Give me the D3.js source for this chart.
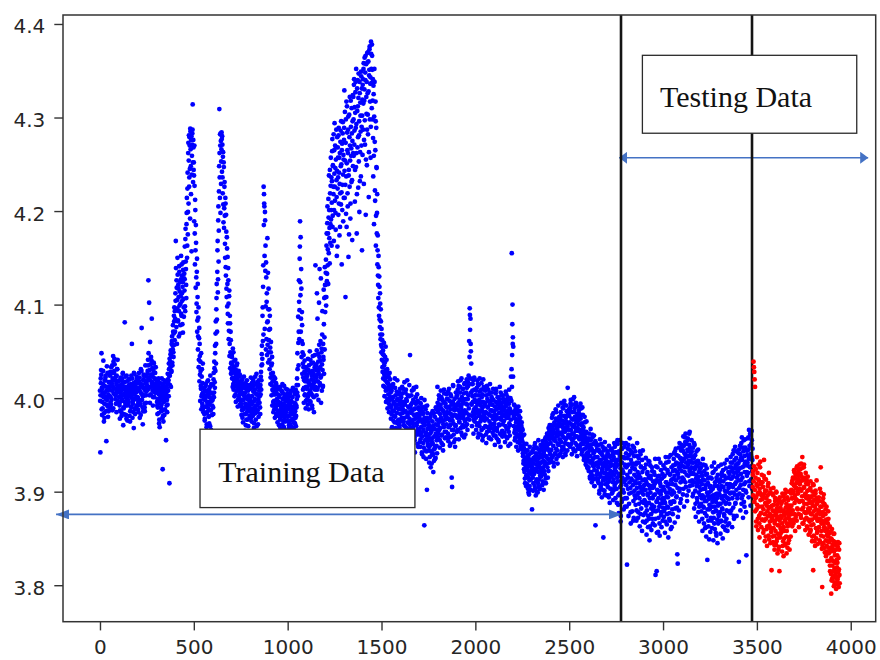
<!DOCTYPE html>
<html>
<head>
<meta charset="utf-8">
<script src="https://cdn.jsdelivr.net/npm/d3@7"></script>
<style>
  html, body { margin: 0; padding: 0; background: #ffffff; }
  svg { display: block; }
</style>
</head>
<body>
<svg id="chart" width="880" height="660"></svg>
<script>
// Voltage readings in millivolts. Each block of rows covers 500 sample
// indices; one row per 50 indices. "Even" tables hold samples start+0,2,4...,
// "odd" tables hold samples start+1,3,5...
const blueMvEven_0000 = [
  [4008,3942,4021,4030,4048,4011,3996,3989,4015,4040,4003,3984,3979,4006,4019,4024,4001,3954,3993,3998,4027,4012,4009,3986,3992],
  [4017,4002,3990,3995,4026,4033,4014,4008,3987,4021,4045,4039,4011,4029,4036,4004,3999,4023,4018,3985,4007,4031,4041,4013,3996],
  [4013,4001,3992,3978,4006,4022,4019,3985,3997,4010,4016,4027,3971,3989,4003,4012,4081,4009,3993,3982,4000,4024,4018,3976,4005],
  [3994,4011,4020,4003,3981,3975,4008,4015,4002,3990,4058,4021,4013,3997,3985,3968,4004,4026,4010,3999,3988,4006,4017,4023,3992],
  [4001,3988,3996,4016,4027,4009,3979,3993,4012,4031,4005,4075,3998,4014,3972,3986,4020,4024,4003,3990,4011,4035,4018,3995,4007],
  [4018,4010,4029,4041,4126,4022,4102,4003,3995,4012,4036,4044,4025,4085,4017,4008,3992,4030,4038,4014,4001,4021,4027,4006,4011],
  [4009,4017,3996,3983,3990,4013,4021,4004,3977,3969,3999,4011,4006,3986,3993,4015,4002,3924,3981,3975,4008,4019,3997,3988,4012],
  [3999,3955,4006,4011,3985,3993,4020,4016,4002,4031,3909,4024,4039,4047,4012,4028,4058,4066,4035,4052,4071,4044,4088,4097,4062],
  [4071,4112,4168,4094,4126,4058,4105,4132,4083,4117,4066,4141,4099,4124,4078,4109,4152,4088,4131,4104,4119,4070,4145,4097,4128],
  [4115,4162,4093,4181,4138,4107,4198,4150,4224,4175,4262,4208,4281,4236,4270,4192,4285,4248,4276,4157,4259,4283,4314,4231,4268]
];
const blueMvOdd_0000 = [
  [3997,4003,4016,4025,3988,3982,4010,4006,4029,4001,3975,3994,4013,4019,4022,3999,3986,4008,4034,4011,3991,3980,4004,4017,4012],
  [4009,4024,4028,4001,3993,3998,4016,4035,4019,4012,3989,4005,4027,4042,4020,4010,4003,3994,4015,4024,4031,4006,3997,4018,4009],
  [4010,4019,3995,3987,4002,4014,4008,3981,3999,4021,4026,4004,3990,3983,4011,4017,3996,4006,4023,4001,3978,3992,4012,4009,3998],
  [4002,3996,4014,4020,4009,3986,3991,4006,4024,4012,4000,3979,3994,4008,4016,4027,4005,3989,3983,4013,4018,4001,3992,4010,4021],
  [4011,4000,3985,3993,4018,4022,4007,3997,3982,4015,4029,4013,4004,3990,4002,4019,4025,4010,3994,3986,4008,4016,4003,4023,4012],
  [4014,4026,4009,4035,4048,4021,4011,4030,4060,4019,4004,4025,4040,4016,4032,4023,4001,4012,4037,4027,4015,4006,4020,4033,4010],
  [4014,4006,3992,3999,4018,4010,3984,3973,3995,4008,4016,4002,3990,3998,4021,4011,3979,3987,4005,4013,3996,3982,4001,4017,4007],
  [4004,4010,3992,3998,4015,4026,4008,4019,4037,4024,4042,4014,4033,4051,4045,4029,4061,4038,4056,4078,4049,4069,4082,4057,4093],
  [4085,4104,4139,4076,4118,4096,4150,4082,4121,4108,4093,4135,4114,4069,4101,4127,4090,4143,4112,4079,4124,4137,4106,4087,4133],
  [4127,4098,4170,4146,4121,4186,4214,4163,4241,4199,4273,4254,4226,4279,4245,4288,4266,4218,4280,4239,4271,4287,4252,4276,4244]
];
const blueMvEven_0500 = [
  [4252,4189,4227,4143,4201,4118,4166,4092,4135,4071,4108,4052,4086,4033,4064,4018,4045,3997,4029,4010,3988,4023,4004,3991,4037],
  [3989,4004,4011,3983,3976,3998,4008,4015,3991,3969,3985,4002,3994,4019,4006,3980,3973,3996,4012,4024,3987,3966,3999,4005,3992],
  [3998,4014,3983,4027,4006,4032,4011,4048,4069,4037,4095,4122,4071,4158,4113,4190,4146,4221,4309,4236,4282,4198,4275,4253,4284],
  [4242,4271,4219,4263,4188,4247,4203,4231,4165,4214,4140,4196,4117,4172,4098,4151,4080,4126,4063,4109,4045,4088,4032,4071,4026],
  [4038,4046,4021,4029,4053,4015,4009,4033,4040,4018,4027,4004,3996,4024,4035,4012,4019,3991,4008,4026,4001,4016,4023,3993,4010],
  [4007,3991,3982,4013,4020,3998,3974,3988,4005,4011,4002,3965,3994,4016,3983,3977,4009,3999,3990,4012,3970,3986,4001,3996,3979],
  [3993,4010,4022,3985,3975,4002,3996,3981,4013,4018,3968,3990,4006,3999,3984,3977,4015,4026,3992,4004,3987,3972,3998,4019,4008],
  [3995,4011,3983,4004,4028,4019,4047,4036,4088,4061,4142,4226,4218,4205,4074,4190,4163,4052,4129,4103,4046,4171,4082,4038,4117],
  [4062,4095,4031,4074,4015,4049,4026,4003,4037,3992,4018,4008,3985,4023,3997,4012,3979,4004,3990,4016,3983,3998,4009,3974,3993],
  [3996,3981,3971,4003,3994,4012,3986,3965,3980,3989,4007,4015,3993,3976,3983,3969,4001,3988,3975,3997,4010,3992,3963,3981,4005]
];
const blueMvOdd_0500 = [
  [4238,4270,4176,4212,4158,4185,4129,4101,4149,4083,4122,4066,4097,4041,4075,4058,4025,4039,4013,4048,4002,4031,3994,4016,4006],
  [3985,3999,4010,4002,3978,3991,4013,4007,3984,3972,3996,4018,4004,3989,3981,4009,4001,3993,3970,3987,4006,4015,3997,3982,4000],
  [4005,3990,4020,4001,4039,4017,4056,4029,4082,4058,4107,4084,4135,4168,4127,4205,4179,4248,4262,4214,4270,4283,4229,4266,4277],
  [4280,4236,4258,4207,4252,4182,4226,4195,4150,4208,4131,4178,4108,4160,4122,4090,4139,4101,4072,4115,4058,4080,4049,4062,4037],
  [4029,4044,4036,4012,4022,4049,4031,4019,4002,4027,4041,4013,4030,4008,4021,4037,4016,3998,4011,4029,4018,4004,4025,4013,3998],
  [3994,4009,4017,3987,3979,4004,3998,4015,4023,3990,3983,4006,4012,3971,3993,4001,4019,3986,3977,4008,4003,3992,4014,3981,3999],
  [4001,3989,3979,4011,4016,3994,3987,4020,4007,3983,3973,3997,4009,4023,3988,3992,4004,3970,3985,4012,4017,3995,3980,4002,4014],
  [4002,3990,4014,4023,4009,4035,4056,4042,4097,4119,4068,4185,4208,4152,4199,4136,4098,4145,4063,4112,4081,4057,4134,4095,4049],
  [4073,4041,4088,4054,4022,4060,4035,4014,4044,4009,4027,3996,4019,4004,3988,4011,4021,3993,4006,3981,4013,3999,3987,4004,4010],
  [3993,3984,4001,4010,3977,3968,3995,3990,4008,3982,3972,3999,4005,3986,3994,4013,3979,3966,3991,4002,3985,3998,3976,3989,4009]
];
const blueMvEven_1000 = [
  [3988,3975,3999,4002,3968,3981,3993,3972,3985,4008,3996,3961,3977,3990,4011,3983,3967,3974,3995,4004,3986,3979,3970,3992,4014],
  [4021,4048,4002,4087,4035,4126,4063,4149,4189,4110,4071,4138,4044,4092,4026,4058,4009,4033,3995,4019,4040,4004,4027,3989,4012],
  [4022,4031,3999,4012,4042,4017,3988,4005,4028,4050,4008,3996,4014,4037,4024,3992,4003,4045,4019,4026,3985,4011,4033,4009,4142],
  [4018,4036,4003,4112,4025,4011,4047,3998,4031,4057,4138,4014,4040,4022,3995,4049,4008,4068,4030,4013,4044,4116,4026,4065,4140],
  [4092,4121,4148,4108,4176,4133,4205,4159,4122,4193,4238,4171,4144,4219,4186,4257,4201,4163,4232,4277,4195,4248,4218,4168,4265],
  [4294,4211,4246,4180,4268,4233,4152,4279,4224,4257,4196,4289,4241,4174,4262,4219,4286,4207,4250,4143,4272,4228,4295,4189,4255],
  [4276,4329,4214,4254,4108,4298,4237,4183,4312,4265,4205,4287,4151,4244,4303,4226,4270,4192,4318,4259,4231,4283,4169,4296,4248],
  [4322,4259,4341,4286,4210,4305,4338,4247,4293,4176,4331,4268,4312,4225,4347,4281,4199,4326,4263,4302,4237,4344,4290,4158,4319],
  [4335,4287,4352,4229,4318,4364,4271,4340,4196,4357,4304,4249,4369,4326,4282,4360,4215,4345,4373,4298,4336,4257,4381,4352,4310],
  [4366,4298,4341,4237,4325,4186,4352,4274,4211,4317,4163,4289,4246,4198,4143,4174,4121,4152,4097,4130,4084,4112,4068,4095,4057]
];
const blueMvOdd_1000 = [
  [3980,3996,3989,3971,3964,3992,4005,3983,3976,3997,3986,3969,4001,3991,3978,3958,3988,4007,3982,3973,3994,4009,3981,3990,3999],
  [4006,4031,4014,4059,4071,4103,4094,4162,4124,4172,4085,4117,4061,4078,4049,4037,4022,4046,4011,4028,4003,4018,4033,3997,4025],
  [4010,4024,4019,3993,4002,4030,4035,4016,3997,4008,4041,4027,4005,4020,4011,3989,4029,4038,4015,4001,4017,4023,4046,4012,4034],
  [4030,4022,4051,4009,4085,4018,4039,4027,4102,4044,4016,4033,4061,4128,4024,4053,4036,4093,4012,4058,4041,4079,4107,4052,4121],
  [4108,4134,4099,4163,4125,4187,4142,4176,4213,4155,4201,4182,4244,4166,4227,4191,4236,4209,4264,4183,4249,4226,4282,4201,4240],
  [4226,4270,4198,4255,4287,4215,4243,4162,4268,4236,4281,4208,4257,4229,4183,4274,4248,4296,4220,4265,4201,4283,4239,4260,4214],
  [4289,4243,4306,4228,4273,4197,4317,4251,4284,4219,4262,4301,4238,4175,4279,4322,4254,4208,4290,4267,4310,4233,4275,4324,4262],
  [4298,4335,4271,4311,4244,4327,4289,4352,4262,4218,4307,4340,4279,4321,4253,4296,4338,4232,4316,4285,4349,4270,4331,4302,4260],
  [4341,4315,4358,4276,4330,4297,4348,4366,4255,4322,4338,4287,4359,4303,4370,4328,4263,4351,4376,4317,4343,4290,4368,4337,4378],
  [4351,4318,4278,4334,4259,4301,4338,4222,4265,4296,4195,4247,4176,4218,4158,4131,4107,4140,4088,4119,4076,4101,4063,4082,4049]
];
const blueMvEven_1500 = [
  [4074,4041,4062,4028,4051,4013,4046,4035,4002,4038,4019,4055,3996,4027,4010,4031,3989,4016,4004,4023,3985,4011,3998,4020,3992],
  [3978,3992,4008,3969,3955,3987,4015,3996,3981,3962,3974,4011,4003,3990,3951,3966,3984,4019,3999,3976,3948,3988,4006,3971,3993],
  [3983,3997,3965,3947,3979,4012,4005,3988,3960,3975,3994,4017,3970,3957,3986,4009,3999,3968,3952,3980,4003,3991,3944,3973,4014],
  [3972,4046,3990,3961,3953,3984,4008,3995,3946,3969,3977,4011,3988,3958,3942,3982,4001,3964,3973,3996,4004,3951,3967,3990,3979],
  [3965,3982,3995,3948,3956,3989,4000,3963,3940,3974,3985,3952,3937,3971,3864,3979,3991,3944,3960,3935,3976,3902,3984,3958,3949],
  [3959,3944,3931,3969,3978,3950,3926,3983,3964,3939,3953,3986,3970,3921,3945,3933,3967,3980,3948,3936,3962,3988,3955,3941,4012],
  [3971,3958,3992,4003,3966,3947,3983,3977,4008,3989,3952,3961,3998,3975,3944,3986,3969,4005,3995,3957,3980,3991,3964,3972,3999],
  [3985,3999,3962,3954,3978,4010,3991,3949,3971,4004,3983,3959,3915,3905,3976,3996,4013,3966,3953,3987,3993,3948,3970,4006,3981],
  [3992,3964,3979,4009,4018,3987,3956,3975,3998,4012,3983,3968,3990,4021,4001,3960,3971,3995,4010,3978,3958,3986,4016,3999,3970],
  [3985,4006,4020,3972,3966,3999,4013,4024,3982,3977,4096,4073,4085,4050,4037,3993,3970,4008,4015,3985,3962,3996,4022,3975,4003]
];
const blueMvOdd_1500 = [
  [4055,4068,4033,4047,4021,4039,4059,4025,4012,4044,4030,4008,4022,4041,4017,3999,4026,4009,4015,3994,4013,4027,4001,3990,4006],
  [3991,3983,3967,3999,4012,4001,3976,3959,3986,3994,4021,3980,3968,3955,3993,4007,3998,3973,3962,3989,4004,3977,3969,3995,4010],
  [3975,3988,4001,3963,3956,3991,3984,4010,3996,3971,3949,3979,3993,4006,3985,3966,3961,3997,4019,3982,3974,3957,3990,4002,3978],
  [3985,3968,3959,3993,4003,3976,3987,3950,3973,3998,4009,3982,3964,3955,3989,3978,3994,4012,3971,3961,3983,3997,3948,3975,3988],
  [3980,3961,3953,3986,3994,3969,3977,3942,3959,3990,3983,3966,3947,3975,3998,3971,3955,3988,3963,3943,3979,3992,3967,3951,3974],
  [3955,3971,3948,3937,3962,3980,3966,3943,3930,3957,3975,3951,3940,3968,3984,3959,3946,3935,3972,3990,3961,3949,3977,3966,3995],
  [3985,3962,3974,3999,3988,3955,3968,3993,3979,4001,3960,3976,3987,3950,3972,3996,4009,3983,3964,3977,3994,3958,3981,4004,3990],
  [3978,3990,4007,3969,3958,3984,3997,3976,3951,3988,4002,3994,3966,3980,3993,4014,3973,3961,3989,3999,3982,3956,3971,3992,4001],
  [3988,4003,3981,3966,3995,4013,3992,3974,3984,4006,4019,3979,3963,3993,3986,4010,3997,3969,3982,4005,4015,3987,3975,3961,3994],
  [3999,3984,4011,3993,3978,4017,4003,3989,4061,4044,4089,4021,4058,4006,3994,4015,3981,4002,3996,4019,3977,3988,4009,3998,3983]
];
const blueMvEven_2000 = [
  [3990,4003,3966,3985,4011,4019,3973,3958,3997,4014,3981,3970,4007,3994,3961,3977,4016,4001,3986,3955,3996,4020,3968,4009,3980],
  [3976,3995,4008,3961,3952,3984,4013,3999,3969,3991,4004,3965,3958,3982,4015,3997,3972,3956,3987,4006,3993,3963,3978,3998,3960],
  [3986,3969,3950,3977,4005,4010,3981,3957,3965,3994,4001,3989,3953,3972,3996,4012,3979,3948,3961,3992,4003,3983,3959,3972,3999],
  [3975,3990,3998,3960,3953,3981,4007,3994,3967,3958,3985,4001,3979,3949,3964,4009,3989,3971,3951,3984,4023,3997,4155,4046,4100],
  [4065,4055,3981,3993,3963,3955,3978,3988,3969,3948,3974,3990,3984,3959,3944,3966,3981,3976,3952,3986,3962,3949,3971,3957,3968],
  [3954,3966,3938,3930,3947,3961,3921,3914,3942,3935,3906,3951,3926,3918,3944,3903,3929,3939,3897,3912,3948,3932,3902,3919,3926],
  [3927,3881,3942,3915,3901,3936,3946,3921,3906,3952,3934,3896,3911,3947,3925,3938,3899,3909,3955,3928,3913,3942,3903,3931,3950],
  [3916,3939,3948,3907,3924,3954,3933,3902,3943,3949,3918,3929,3958,3909,3937,3951,3962,3926,3915,3945,3968,3957,3931,3971,3940],
  [3961,3944,3932,3969,3979,3958,3938,3964,3984,3927,3955,3971,3941,3962,3988,3946,3935,3968,3976,3930,3960,3992,3950,3939,3973],
  [3970,3955,3941,3981,3995,3963,3948,3976,3937,3989,3966,3945,3997,3973,3952,3939,3979,3992,3957,3969,3944,4011,3984,3961,3950]
];
const blueMvOdd_2000 = [
  [3996,3979,4008,3988,3971,3993,4015,4003,3962,3984,3998,4021,3987,3975,3992,4009,3966,3980,4004,3990,3959,3983,4012,3995,3978],
  [3992,3970,3985,4003,4011,3978,3964,3990,3997,4009,3983,3957,3975,3994,4006,3987,3968,3981,4001,3993,3972,3986,4010,3979,3966],
  [3973,3991,3982,3960,3996,4008,3988,3968,3978,4001,3993,3955,3984,3999,3971,3962,3990,4006,3977,3986,3995,3965,3981,4003,3987],
  [3988,3976,3963,3995,3983,3970,3991,4004,3979,3957,3986,3998,3968,3981,3994,3973,3960,3988,4000,3977,3985,4031,4012,4079,4058],
  [4023,3985,3970,3979,3992,3966,3958,3983,3974,3962,3987,3969,3953,3977,3991,3960,3972,3955,3969,3979,3947,3964,3958,3974,3945],
  [3949,3941,3960,3933,3924,3951,3936,3909,3928,3944,3917,3932,3908,3938,3923,3915,3899,3935,3920,3906,3929,3941,3913,3922,3933],
  [3918,3934,3944,3925,3909,3930,3919,3949,3937,3903,3922,3941,3929,3913,3900,3932,3946,3921,3905,3936,3926,3944,3917,3938,3924],
  [3931,3920,3945,3937,3911,3926,3950,3940,3922,3932,3956,3945,3914,3938,3953,3930,3947,3959,3935,3922,3951,3964,3943,3956,3966],
  [3952,3971,3945,3936,3960,3982,3967,3949,3931,3957,3974,3963,3940,3954,3978,3985,3959,3944,3966,3951,3972,3938,3963,3980,3956],
  [3962,3977,3985,3953,3944,3972,3960,3990,3969,3948,3958,3981,3993,3964,3941,3956,3975,3966,3986,3951,3970,3982,3959,3973,3988]
];
const blueMvEven_2500 = [
  [3981,3966,3948,3990,3998,3957,3972,3940,3962,3993,3977,3946,3957,4001,3985,3969,3943,3959,3995,3974,3950,3938,3979,3991,3965],
  [3976,3987,3956,3946,3981,3994,3963,3951,3940,3973,3990,3958,3945,3969,3934,3957,3980,3962,3938,3929,3953,3975,3948,3936,3925],
  [3955,3939,3922,3962,3945,3916,3931,3967,3950,3919,3910,3944,3958,3928,3913,3941,3960,3923,3906,3937,3864,3952,3930,3918,3945],
  [3929,3944,3914,3950,3909,3898,3933,3956,3919,3905,3941,3930,3894,3924,3948,3912,3851,3936,3920,3901,3953,3927,3908,3934,3896],
  [3916,3932,3943,3905,3896,3926,3949,3911,3888,3937,3922,3903,3929,3946,3918,3899,3940,3891,3913,3934,3952,3906,3925,3893,3942],
  [3927,3942,3888,3915,3951,3934,3896,3877,3919,3940,3955,3905,3868,3931,3912,3889,3946,3923,3902,3937,3881,3910,3948,3929,3893],
  [3936,3952,3907,3884,3822,3928,3946,3915,3874,3939,3898,3957,3921,3904,3866,3943,3930,3912,3879,3949,3925,3890,3872,3938,3901],
  [3924,3943,3886,3909,3869,3931,3952,3897,3914,3878,3936,3918,3893,3863,3905,3940,3927,3882,3899,3858,3921,3944,3903,3875,3888],
  [3902,3925,3867,3889,3936,3911,3854,3880,3919,3898,3862,3933,3907,3871,3848,3893,3928,3914,3876,3859,3886,3922,3904,3866,3881],
  [3896,3921,3908,3864,3935,3811,3879,3912,3815,3890,3926,3901,3857,3872,3917,3884,3853,3909,3931,3897,3875,3862,3914,3888,3869]
];
const blueMvOdd_2500 = [
  [3974,3960,3987,3994,3966,3951,3978,3985,3955,3970,3999,3962,3944,3971,3989,3980,3952,3965,3992,3976,3959,3983,3968,3946,3977],
  [3972,3958,3983,3966,3949,3978,3989,3960,3971,3943,3955,3982,3966,3951,3937,3962,3974,3946,3958,3932,3964,3941,3927,3952,3939],
  [3942,3926,3957,3933,3949,3914,3938,3955,3921,3946,3932,3961,3917,3935,3951,3927,3906,3943,3930,3954,3914,3937,3949,3922,3931],
  [3937,3911,3926,3945,3919,3901,3930,3942,3916,3934,3951,3908,3922,3939,3902,3927,3944,3915,3931,3897,3920,3946,3913,3928,3938],
  [3924,3909,3941,3919,3931,3894,3914,3938,3927,3903,3945,3916,3933,3898,3921,3943,3910,3928,3937,3902,3918,3948,3923,3909,3931],
  [3921,3903,3934,3955,3911,3886,3929,3943,3917,3898,3938,3925,3874,3907,3946,3931,3915,3892,3952,3920,3899,3936,3912,3884,3927],
  [3913,3941,3926,3893,3918,3936,3903,3950,3929,3887,3910,3945,3922,3878,3934,3914,3899,3941,3926,3907,3869,3930,3947,3918,3896],
  [3911,3893,3929,3916,3880,3904,3938,3921,3872,3899,3931,3887,3909,3943,3915,3876,3926,3902,3889,3934,3912,3868,3897,3925,3907],
  [3891,3913,3877,3902,3929,3885,3869,3908,3921,3896,3874,3915,3888,3932,3903,3863,3899,3917,3882,3906,3926,3871,3893,3911,3879],
  [3905,3884,3918,3897,3871,3910,3927,3889,3856,3902,3916,3880,3893,3935,3899,3866,3912,3887,3906,3923,3878,3901,3892,3919,3883]
];
const blueMvEven_3000 = [
  [3905,3928,3873,3891,3917,3856,3882,3937,3899,3910,3865,3884,3923,3894,3851,3932,3908,3877,3869,3919,3939,3887,3898,3862,3913],
  [3901,3876,3928,3914,3941,3889,3867,3923,3907,3946,3931,3895,3883,3833,3823,3919,3938,3880,3926,3952,3903,3888,3935,3944,3911],
  [3922,3948,3935,3897,3959,3913,3884,3941,3926,3953,3962,3905,3937,3918,3890,3945,3957,3929,3901,3933,3950,3964,3911,3924,3942],
  [3938,3955,3931,3907,3895,3947,3919,3936,3882,3950,3926,3901,3873,3914,3943,3928,3889,3909,3933,3878,3916,3868,3905,3924,3886],
  [3911,3926,3879,3893,3917,3858,3935,3884,3903,3866,3922,3890,3861,3928,3907,3852,3874,3919,3827,3896,3914,3863,3899,3849,3881],
  [3893,3857,3915,3901,3869,3927,3884,3920,3896,3848,3872,3931,3906,3860,3879,3924,3889,3853,3912,3898,3845,3918,3866,3876,3903],
  [3887,3910,3902,3855,3868,3929,3893,3917,3881,3850,3923,3905,3862,3874,3930,3896,3859,3914,3888,3871,3934,3900,3864,3879,3921],
  [3892,3866,3919,3908,3877,3937,3899,3926,3914,3862,3931,3905,3883,3944,3871,3925,3897,3948,3888,3910,3936,3874,3921,3893,3917],
  [3923,3941,3825,3904,3933,3949,3880,3912,3936,3887,3958,3926,3896,3872,3943,3955,3908,3884,3930,3947,3901,3878,3832,3921,3939],
  [3931,3957,3945,3894,3966,3906,3938,3962,3885,3927,3951,3965,3903,3934]
];
const blueMvOdd_3000 = [
  [3893,3916,3879,3902,3925,3888,3868,3910,3931,3895,3876,3906,3920,3883,3899,3937,3871,3903,3918,3889,3860,3912,3926,3897,3881],
  [3908,3922,3890,3935,3899,3917,3943,3882,3929,3912,3894,3939,3921,3904,3873,3930,3915,3947,3900,3924,3936,3910,3892,3928,3950],
  [3932,3915,3944,3927,3903,3949,3935,3921,3958,3910,3939,3931,3951,3896,3926,3955,3943,3917,3938,3962,3922,3906,3947,3933,3919],
  [3926,3943,3912,3937,3920,3898,3931,3952,3910,3924,3939,3887,3918,3932,3906,3893,3927,3913,3945,3899,3921,3884,3911,3930,3896],
  [3902,3887,3920,3908,3871,3896,3913,3929,3883,3894,3912,3877,3903,3918,3862,3890,3925,3899,3881,3909,3869,3892,3915,3886,3905],
  [3884,3906,3872,3895,3914,3861,3889,3903,3878,3921,3892,3866,3884,3910,3897,3856,3880,3915,3893,3870,3906,3885,3927,3874,3898],
  [3896,3878,3913,3887,3869,3906,3920,3882,3895,3863,3911,3890,3876,3917,3901,3868,3887,3925,3894,3880,3908,3858,3893,3915,3904],
  [3905,3887,3926,3898,3914,3931,3880,3907,3922,3893,3940,3916,3899,3874,3920,3934,3908,3887,3928,3943,3902,3915,3930,3896,3925],
  [3930,3912,3945,3898,3925,3940,3907,3919,3952,3893,3934,3915,3947,3902,3927,3889,3938,3921,3956,3910,3932,3899,3944,3917,3928],
  [3944,3920,3958,3935,3911,3949,3926,3961,3940,3913,3937,3955,3922,3946]
];
// Later readings (drawn in red), starting at sample 3478.
const redMvEven_3478 = [
  [3905,3922,4039,4033,4028,4020,4012,3893,3924,3868,3881,3937,3906,3897,3859,3929,3912,3874,3851,3899,3932,3908,3877,3862,3918],
  [3884,3910,3895,3856,3917,3934,3869,3847,3901,3887,3913,3893,3860,3842,3879,3906,3889,3853,3920,3864,3898,3876,3845,3903,3857],
  [3816,3872,3898,3880,3846,3904,3886,3853,3838,3869,3893,3875,3843,3899,3882,3850,3834,3864,3890,3873,3841,3815,3894,3879,3855],
  [3861,3887,3872,3836,3898,3879,3847,3831,3858,3891,3875,3843,3902,3883,3852,3834,3866,3894,3877,3845,3900,3882,3851,3838,3870],
  [3876,3852,3898,3885,3909,3863,3893,3915,3901,3870,3923,3906,3876,3858,3918,3892,3909,3869,3927,3900,3881,3921,3913,3862,3889],
  [3903,3924,3911,3875,3930,3916,3881,3937,3890,3914,3866,3926,3905,3878,3897,3859,3920,3894,3872,3912,3887,3861,3908,3882,3854],
  [3878,3902,3888,3857,3911,3894,3864,3876,3847,3900,3885,3816,3907,3853,3891,3873,3842,3898,3881,3850,3912,3887,3858,3844,3869],
  [3871,3894,3879,3848,3903,3884,3926,3853,3866,3839,3798,3889,3874,3845,3897,3862,3886,3835,3858,3881,3831,3868,3842,3854,3826],
  [3866,3879,3840,3855,3826,3863,3815,3836,3850,3791,3805,3860,3821,3839,3810,3847,3799,3855,3818,3832,3808,3843,3796,3814,3803],
  [3832,3806,3846,3815,3798,3838,3811]
];
const redMvOdd_3478 = [
  [3918,3896,3911,3927,3889,3902,3879,3915,3894,3863,3908,3886,3920,3871,3899,3913,3884,3866,3903,3926,3891,3877,3910,3896,3870],
  [3892,3870,3905,3881,3859,3898,3914,3876,3888,3852,3871,3901,3885,3863,3896,3874,3909,3882,3849,3890,3868,3899,3861,3884,3873],
  [3869,3885,3852,3874,3896,3861,3879,3843,3866,3890,3858,3876,3900,3847,3871,3886,3855,3879,3838,3864,3892,3869,3851,3883,3860],
  [3874,3857,3889,3866,3842,3880,3895,3862,3850,3877,3869,3898,3844,3871,3887,3858,3879,3840,3863,3891,3873,3848,3885,3866,3880],
  [3884,3869,3902,3876,3893,3912,3880,3899,3866,3907,3921,3888,3896,3914,3873,3904,3925,3891,3882,3911,3898,3917,3876,3903,3929],
  [3908,3890,3919,3872,3901,3925,3895,3866,3912,3883,3904,3929,3887,3870,3915,3898,3877,3909,3893,3863,3901,3916,3880,3895,3870],
  [3891,3868,3882,3904,3859,3876,3895,3870,3852,3889,3908,3865,3879,3896,3847,3884,3872,3901,3861,3875,3893,3856,3869,3890,3877],
  [3880,3862,3890,3871,3846,3876,3899,3858,3884,3869,3843,3878,3893,3852,3866,3887,3840,3861,3876,3848,3870,3884,3836,3859,3847],
  [3852,3871,3834,3846,3862,3821,3840,3857,3812,3829,3849,3807,3843,3826,3855,3815,3836,3803,3846,3824,3812,3838,3801,3827,3819],
  [3824,3841,3809,3829,3817,3845,3802]
];

// Axis ticks
const xTicks = [0, 500, 1000, 1500, 2000, 2500, 3000, 3500, 4000];
const yTicks = [3.8, 3.9, 4.0, 4.1, 4.2, 4.3, 4.4];

// Sample indices where the data is split
const splitSamples = [2776, 3474];

// Annotation labels
const trainingLabel = "Training Data";
const testingLabel = "Testing Data";

const SAMPLE_STEP = 2;
const ROW_SPAN = 50;

function flatten(blocks, start) {
  const pts = [];
  blocks.forEach((row, r) => {
    row.forEach((mv, j) => {
      pts.push({ x: start + r * ROW_SPAN + j * SAMPLE_STEP, y: mv / 1000 });
    });
  });
  return pts;
}

const blueTables = [
  [blueMvEven_0000, blueMvOdd_0000, 0],
  [blueMvEven_0500, blueMvOdd_0500, 500],
  [blueMvEven_1000, blueMvOdd_1000, 1000],
  [blueMvEven_1500, blueMvOdd_1500, 1500],
  [blueMvEven_2000, blueMvOdd_2000, 2000],
  [blueMvEven_2500, blueMvOdd_2500, 2500],
  [blueMvEven_3000, blueMvOdd_3000, 3000]
];
const bluePoints = [];
blueTables.forEach(([even, odd, start]) => {
  bluePoints.push(...flatten(even, start), ...flatten(odd, start + 1));
});
const redPoints = [].concat(flatten(redMvEven_3478, 3478), flatten(redMvOdd_3478, 3479));

// ---- layout ----
const plot = { left: 63, top: 15, right: 875.7, bottom: 621.7 };
const svg = d3.select("#chart");
svg.append("rect").attr("width", 880).attr("height", 660).attr("fill", "#ffffff");

const x = d3.scaleLinear().domain([-197, 4133]).range([plot.left, plot.right]);
const y = d3.scaleLinear().domain([3.761, 4.4096]).range([plot.bottom, plot.top]);

const axisColor = "#333333";
const tickFont = "'DejaVu Sans', sans-serif";

// x axis
const gx = svg.append("g")
  .attr("transform", `translate(0,${plot.bottom})`)
  .call(d3.axisBottom(x).tickValues(xTicks).tickFormat(d3.format("d"))
    .tickSize(8.7).tickSizeOuter(0).tickPadding(9.6));
gx.select(".domain").remove();
gx.selectAll(".tick line").attr("stroke", axisColor).attr("stroke-width", 1.4);
gx.selectAll(".tick text")
  .attr("font-family", tickFont).attr("font-size", 20).attr("fill", "#262626");

// y axis
const gy = svg.append("g")
  .attr("transform", `translate(${plot.left},0)`)
  .call(d3.axisLeft(y).tickValues(yTicks).tickFormat(d3.format(".1f"))
    .tickSize(8.7).tickSizeOuter(0).tickPadding(9));
gy.select(".domain").remove();
gy.selectAll(".tick line").attr("stroke", axisColor).attr("stroke-width", 1.4);
gy.selectAll(".tick text")
  .attr("font-family", tickFont).attr("font-size", 20).attr("fill", "#262626")
  .attr("dy", "0.45em");

const DOT_R = 2.4;

// blue samples
svg.append("g").selectAll("circle").data(bluePoints).join("circle")
  .attr("cx", d => x(d.x)).attr("cy", d => y(d.y)).attr("r", DOT_R)
  .attr("fill", "#0000ff");

// annotation arrows
const arrowColor = "#4472c4";
const defs = svg.append("defs");
function addMarker(id, len, half) {
  defs.append("marker")
    .attr("id", id)
    .attr("markerUnits", "userSpaceOnUse")
    .attr("viewBox", `0 0 ${len} ${half * 2}`)
    .attr("refX", len).attr("refY", half)
    .attr("markerWidth", len).attr("markerHeight", half * 2)
    .attr("orient", "auto-start-reverse")
    .append("path")
    .attr("d", `M0,0 L${len},${half} L0,${half * 2} Z`)
    .attr("fill", arrowColor);
}
addMarker("headTrain", 13, 5);
addMarker("headTest", 8, 6);

const arrows = [
  { x0: -234, x1: 2780, yv: 3.8757, head: "headTrain" },
  { x0: 2766, x1: 4093, yv: 4.2570, head: "headTest" }
];
svg.append("g").selectAll("line").data(arrows).join("line")
  .attr("x1", d => x(d.x0)).attr("x2", d => x(d.x1))
  .attr("y1", d => y(d.yv)).attr("y2", d => y(d.yv))
  .attr("stroke", arrowColor).attr("stroke-width", 1.6)
  .attr("marker-start", d => `url(#${d.head})`)
  .attr("marker-end", d => `url(#${d.head})`);

// split lines
svg.append("g").selectAll("line").data(splitSamples).join("line")
  .attr("x1", d => x(d)).attr("x2", d => x(d))
  .attr("y1", plot.top).attr("y2", plot.bottom)
  .attr("stroke", "#141414").attr("stroke-width", 2.6);

// red samples
svg.append("g").selectAll("circle").data(redPoints).join("circle")
  .attr("cx", d => x(d.x)).attr("cy", d => y(d.y)).attr("r", DOT_R)
  .attr("fill", "#ff0000");

// frame
svg.append("rect")
  .attr("x", plot.left).attr("y", plot.top)
  .attr("width", plot.right - plot.left).attr("height", plot.bottom - plot.top)
  .attr("fill", "none").attr("stroke", axisColor).attr("stroke-width", 1.5);

// label boxes
const boxes = [
  { label: trainingLabel, x0: 533, x1: 1678, y0: 3.9668, y1: 3.8830, tx: 630, ty: 3.9107 },
  { label: testingLabel, x0: 2890, x1: 4032, y0: 4.3665, y1: 4.2832, tx: 2984, ty: 4.3116 }
];
const gb = svg.append("g");
gb.selectAll("rect").data(boxes).join("rect")
  .attr("x", d => x(d.x0)).attr("y", d => y(d.y0))
  .attr("width", d => x(d.x1) - x(d.x0)).attr("height", d => y(d.y1) - y(d.y0))
  .attr("fill", "#ffffff").attr("stroke", "#2b2b2b").attr("stroke-width", 1.3);
gb.selectAll("text").data(boxes).join("text")
  .attr("x", d => x(d.tx)).attr("y", d => y(d.ty))
  .attr("font-family", "'Liberation Serif', 'Times New Roman', serif")
  .attr("font-size", 30).attr("fill", "#111111")
  .text(d => d.label);
</script>
</body>
</html>
